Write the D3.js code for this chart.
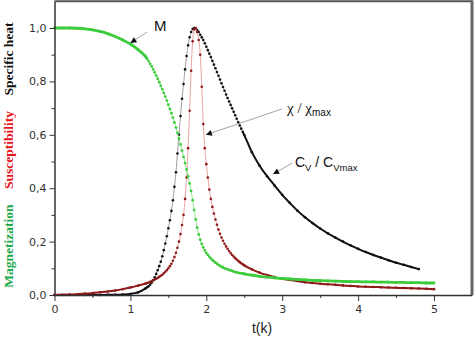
<!DOCTYPE html>
<html><head><meta charset="utf-8">
<script src="https://cdn.jsdelivr.net/npm/d3@7"></script>
<style>body{margin:0;background:#fff}svg{display:block}</style>
</head><body>
<svg id="c" width="474" height="340"></svg>
<script>
// temperature grid
const T = [0,0.1,0.2,0.3,0.4,0.5,0.6,0.7,0.8,0.9,1.0,1.1,1.2,
1.22,1.24,1.26,1.28,1.3,1.32,1.34,1.36,1.38,1.4,
1.42,1.44,1.46,1.48,1.5,1.52,1.54,1.56,1.58,1.6,
1.62,1.64,1.66,1.68,1.7,1.72,1.74,1.76,1.78,1.8,
1.82,1.84,1.86,1.88,1.9,1.92,1.94,1.96,1.98,2.0,
2.02,2.04,2.06,2.08,2.1,2.12,2.14,2.16,2.18,2.2,
2.22,2.24,2.26,2.28,2.3,2.32,2.34,2.36,2.38,2.4,
2.42,2.44,2.46,2.48,2.5,
2.6,2.7,2.8,2.9,3.0,3.1,3.2,3.3,3.4,3.5,3.6,3.7,3.8,3.9,4.0,4.1,4.2,4.3,4.4,4.5,4.6,4.7,4.8,4.9,5.0];

// specific heat Cv/Cvmax
const cv = [0,0,0,0,0,0,0,0.0005,0.001,0.002,0.004,0.01,0.025,
0.029,0.033,0.039,0.046,0.055,0.066,0.079,0.093,0.108,0.125,
0.145,0.168,0.193,0.22,0.25,0.28,0.315,0.355,0.405,0.46,
0.53,0.6,0.67,0.735,0.79,0.845,0.895,0.935,0.965,0.985,
0.996,1.0,0.998,0.992,0.985,0.975,0.965,0.955,0.943,0.93,
0.917,0.904,0.891,0.877,0.863,0.849,0.835,0.821,0.807,0.793,
0.779,0.765,0.751,0.738,0.725,0.712,0.699,0.686,0.673,0.66,
0.647,0.635,0.623,0.611,0.599,
0.535,0.485,0.445,0.41,0.375,0.345,0.316,0.291,0.269,0.249,0.231,0.215,0.2,0.186,0.173,0.161,0.15,0.14,0.13,0.121,0.113,0.105,0.097,null,null];

// susceptibility chi/chimax
const chi = [0,0.001,0.002,0.003,0.005,0.007,0.01,0.013,0.017,0.022,0.028,0.035,0.043,
0.045,0.047,0.049,0.052,0.055,0.058,0.061,0.064,0.068,0.072,
0.076,0.081,0.087,0.093,0.1,0.108,0.117,0.128,0.142,0.158,
0.177,0.2,0.228,0.262,0.3,0.36,0.44,0.55,0.69,0.84,
0.95,0.995,1.0,0.985,0.955,0.9,0.78,0.64,0.55,0.49,
0.44,0.395,0.36,0.33,0.305,0.283,0.263,0.245,0.229,0.215,
0.203,0.192,0.182,0.173,0.165,0.157,0.15,0.144,0.138,0.133,
0.128,0.123,0.119,0.115,0.111,
0.096,0.084,0.075,0.067,0.061,0.056,0.052,0.048,0.045,0.042,0.04,0.038,0.036,0.034,0.032,0.031,0.03,0.029,0.028,0.027,0.026,0.025,0.024,0.023,0.022];

// magnetization M
const mag = [1.0,1.0,1.0,0.999,0.997,0.993,0.987,0.979,0.968,0.955,0.94,0.919,0.893,
0.885,0.876,0.866,0.856,0.845,0.834,0.822,0.81,0.797,0.784,
0.771,0.757,0.743,0.728,0.713,0.697,0.681,0.664,0.646,0.627,
0.607,0.586,0.564,0.541,0.517,0.494,0.47,0.445,0.418,0.39,
0.355,0.318,0.283,0.252,0.227,0.207,0.191,0.178,0.167,0.158,
0.15,0.143,0.137,0.131,0.126,0.121,0.117,0.113,0.109,0.106,
0.103,0.1,0.098,0.096,0.094,0.092,0.09,0.088,0.086,0.085,
0.083,0.082,0.081,0.08,0.079,
0.074,0.07,0.067,0.064,0.062,0.06,0.058,0.057,0.055,0.054,0.053,0.052,0.051,0.05,0.05,0.049,0.049,0.048,0.048,0.047,0.047,0.046,0.046,0.045,0.045];

const yTicks = [0,0.2,0.4,0.6,0.8,1.0];
const yTickLabels = ["0,0","0,2","0,4","0,6","0,8","1,0"];
const yMinor = [0.1,0.3,0.5,0.7,0.9];
const xTicks = [0,1,2,3,4,5];
const xTickLabels = ["0","1","2","3","4","5"];
const xMinor = [0.5,1.5,2.5,3.5,4.5];

const svg = d3.select("#c");
const x = d3.scaleLinear().domain([0,5.5]).range([54.5,472]);
const y = d3.scaleLinear().domain([0,1.1]).range([295,1.3]);

// frame top/right
svg.append("line").attr("x1",x(0)).attr("x2",x(5.5)).attr("y1",y(1.1)).attr("y2",y(1.1))
  .attr("stroke","#555").attr("stroke-width",2);
svg.append("line").attr("x1",x(5.5)).attr("x2",x(5.5)).attr("y1",y(1.1)-1).attr("y2",y(0))
  .attr("stroke","#666").attr("stroke-width",3);

function series(vals, o){
  const data = T.map((t,i)=>({t, v: vals[i]})).filter(d=>d.v!=null);
  const g = svg.append("g");
  const line = d3.line().x(d=>x(d.t)).y(d=>y(d.v)).curve(d3.curveMonotoneX);
  g.append("path").attr("d", line(data)).attr("fill","none")
    .attr("stroke",o.thin).attr("stroke-width",o.thinW);
  const thick = d3.line().defined(d=> d.t<=1.22 || d.t>=2.48)
    .x(d=>x(d.t)).y(d=>y(d.v)).curve(d3.curveMonotoneX);
  g.append("path").attr("d", thick(data)).attr("fill","none")
    .attr("stroke",o.dot).attr("stroke-width",o.thickW);
  g.selectAll("circle").data(data).join("circle")
    .attr("cx",d=>x(d.t)).attr("cy",d=>y(d.v)).attr("r",o.r).attr("fill",o.dot);
}
series(cv,  {thin:"#888", thinW:0.8, dot:"#111", thickW:2.0, r:1.3});
series(chi, {thin:"#e58a8a", thinW:0.8, dot:"#8e1a1a", thickW:2.0, r:1.3});
series(mag, {thin:"#8fe88f", thinW:1, dot:"#3ccc3c", thickW:2.8, r:1.4});

// axes
const ax = svg.append("g").attr("transform",`translate(0,${y(0)})`)
  .call(d3.axisBottom(x).tickValues(xTicks).tickFormat((d,i)=>xTickLabels[i]).tickSize(6).tickSizeOuter(0).tickPadding(4));
ax.select(".domain").attr("stroke","#333").attr("stroke-width",1.5);
const axm = svg.append("g").attr("transform",`translate(0,${y(0)})`)
  .call(d3.axisBottom(x).tickValues(xMinor).tickFormat("").tickSize(3).tickSizeOuter(0));
axm.select(".domain").remove();
const ay = svg.append("g").attr("transform",`translate(${x(0)},0)`)
  .call(d3.axisLeft(y).tickValues(yTicks).tickFormat((d,i)=>yTickLabels[i]).tickSize(5).tickSizeOuter(0).tickPadding(3));
ay.select(".domain").attr("stroke","#333").attr("stroke-width",1.5);
const aym = svg.append("g").attr("transform",`translate(${x(0)},0)`)
  .call(d3.axisLeft(y).tickValues(yMinor).tickFormat("").tickSize(3).tickSizeOuter(0));
aym.select(".domain").remove();
svg.selectAll(".tick line").attr("stroke","#333");
svg.selectAll(".tick text").attr("fill","#333").style("font-family","'DejaVu Sans', sans-serif").style("font-size","11px");

// axis titles
svg.append("text").attr("x",262).attr("y",333).attr("text-anchor","middle")
  .style("font-family","'Liberation Sans', Arial, sans-serif").style("font-size","14px").attr("fill","#222").text("t(k)");
const ylab = [
  {txt:"Magnetization", c:"#1faa4a", cy:246},
  {txt:"Susceptibility", c:"#e8141c", cy:150},
  {txt:"Specific heat", c:"#111", cy:59}
];
ylab.forEach(l=>{
  svg.append("text").attr("transform",`translate(13,${l.cy}) rotate(-90)`).attr("text-anchor","middle")
    .style("font-family","'Liberation Serif', 'Times New Roman', serif").style("font-weight","bold")
    .style("font-size","13.5px").attr("fill",l.c).text(l.txt);
});

// annotations
const defs = svg.append("defs");
defs.append("marker").attr("id","ah").attr("viewBox","0 0 10 10").attr("refX",10).attr("refY",5)
  .attr("markerWidth",7).attr("markerHeight",6).attr("markerUnits","userSpaceOnUse").attr("orient","auto")
  .append("path").attr("d","M0,0L10,5L0,10Z").attr("fill","#111");
const arrows = [
  {from:[1.22,0.985], to:[1.0,0.944]},
  {from:[3.0,0.697], to:[1.995,0.6]},
  {from:[3.13,0.494], to:[2.88,0.453]}
];
arrows.forEach(a=>{
  svg.append("line").attr("x1",x(a.from[0])).attr("y1",y(a.from[1])).attr("x2",x(a.to[0])).attr("y2",y(a.to[1]))
    .attr("stroke","#999").attr("stroke-width",0.9).attr("marker-end","url(#ah)");
});
const sans = "'Liberation Sans', Arial, sans-serif";
svg.append("text").attr("x",x(1.31)).attr("y",y(0.989)).style("font-family",sans).style("font-size","15px").attr("fill","#111").text("M");
const tchi = svg.append("text").attr("x",x(3.063)).attr("y",y(0.682)).attr("fill","#111")
  .style("font-family","'Liberation Serif', serif").style("font-size","15px");
tchi.append("tspan").text("χ / χ");
tchi.append("tspan").attr("dy",3).style("font-family",sans).style("font-size","10px").text("max");
const tcv = svg.append("text").attr("x",x(3.168)).attr("y",y(0.479)).attr("fill","#111")
  .style("font-family",sans).style("font-size","14px");
tcv.append("tspan").text("C");
tcv.append("tspan").attr("dy",4).style("font-size","9.5px").text("V");
tcv.append("tspan").attr("dy",-4).text(" / C");
tcv.append("tspan").attr("dy",4).style("font-size","9.5px").text("Vmax");
</script>
</body></html>
